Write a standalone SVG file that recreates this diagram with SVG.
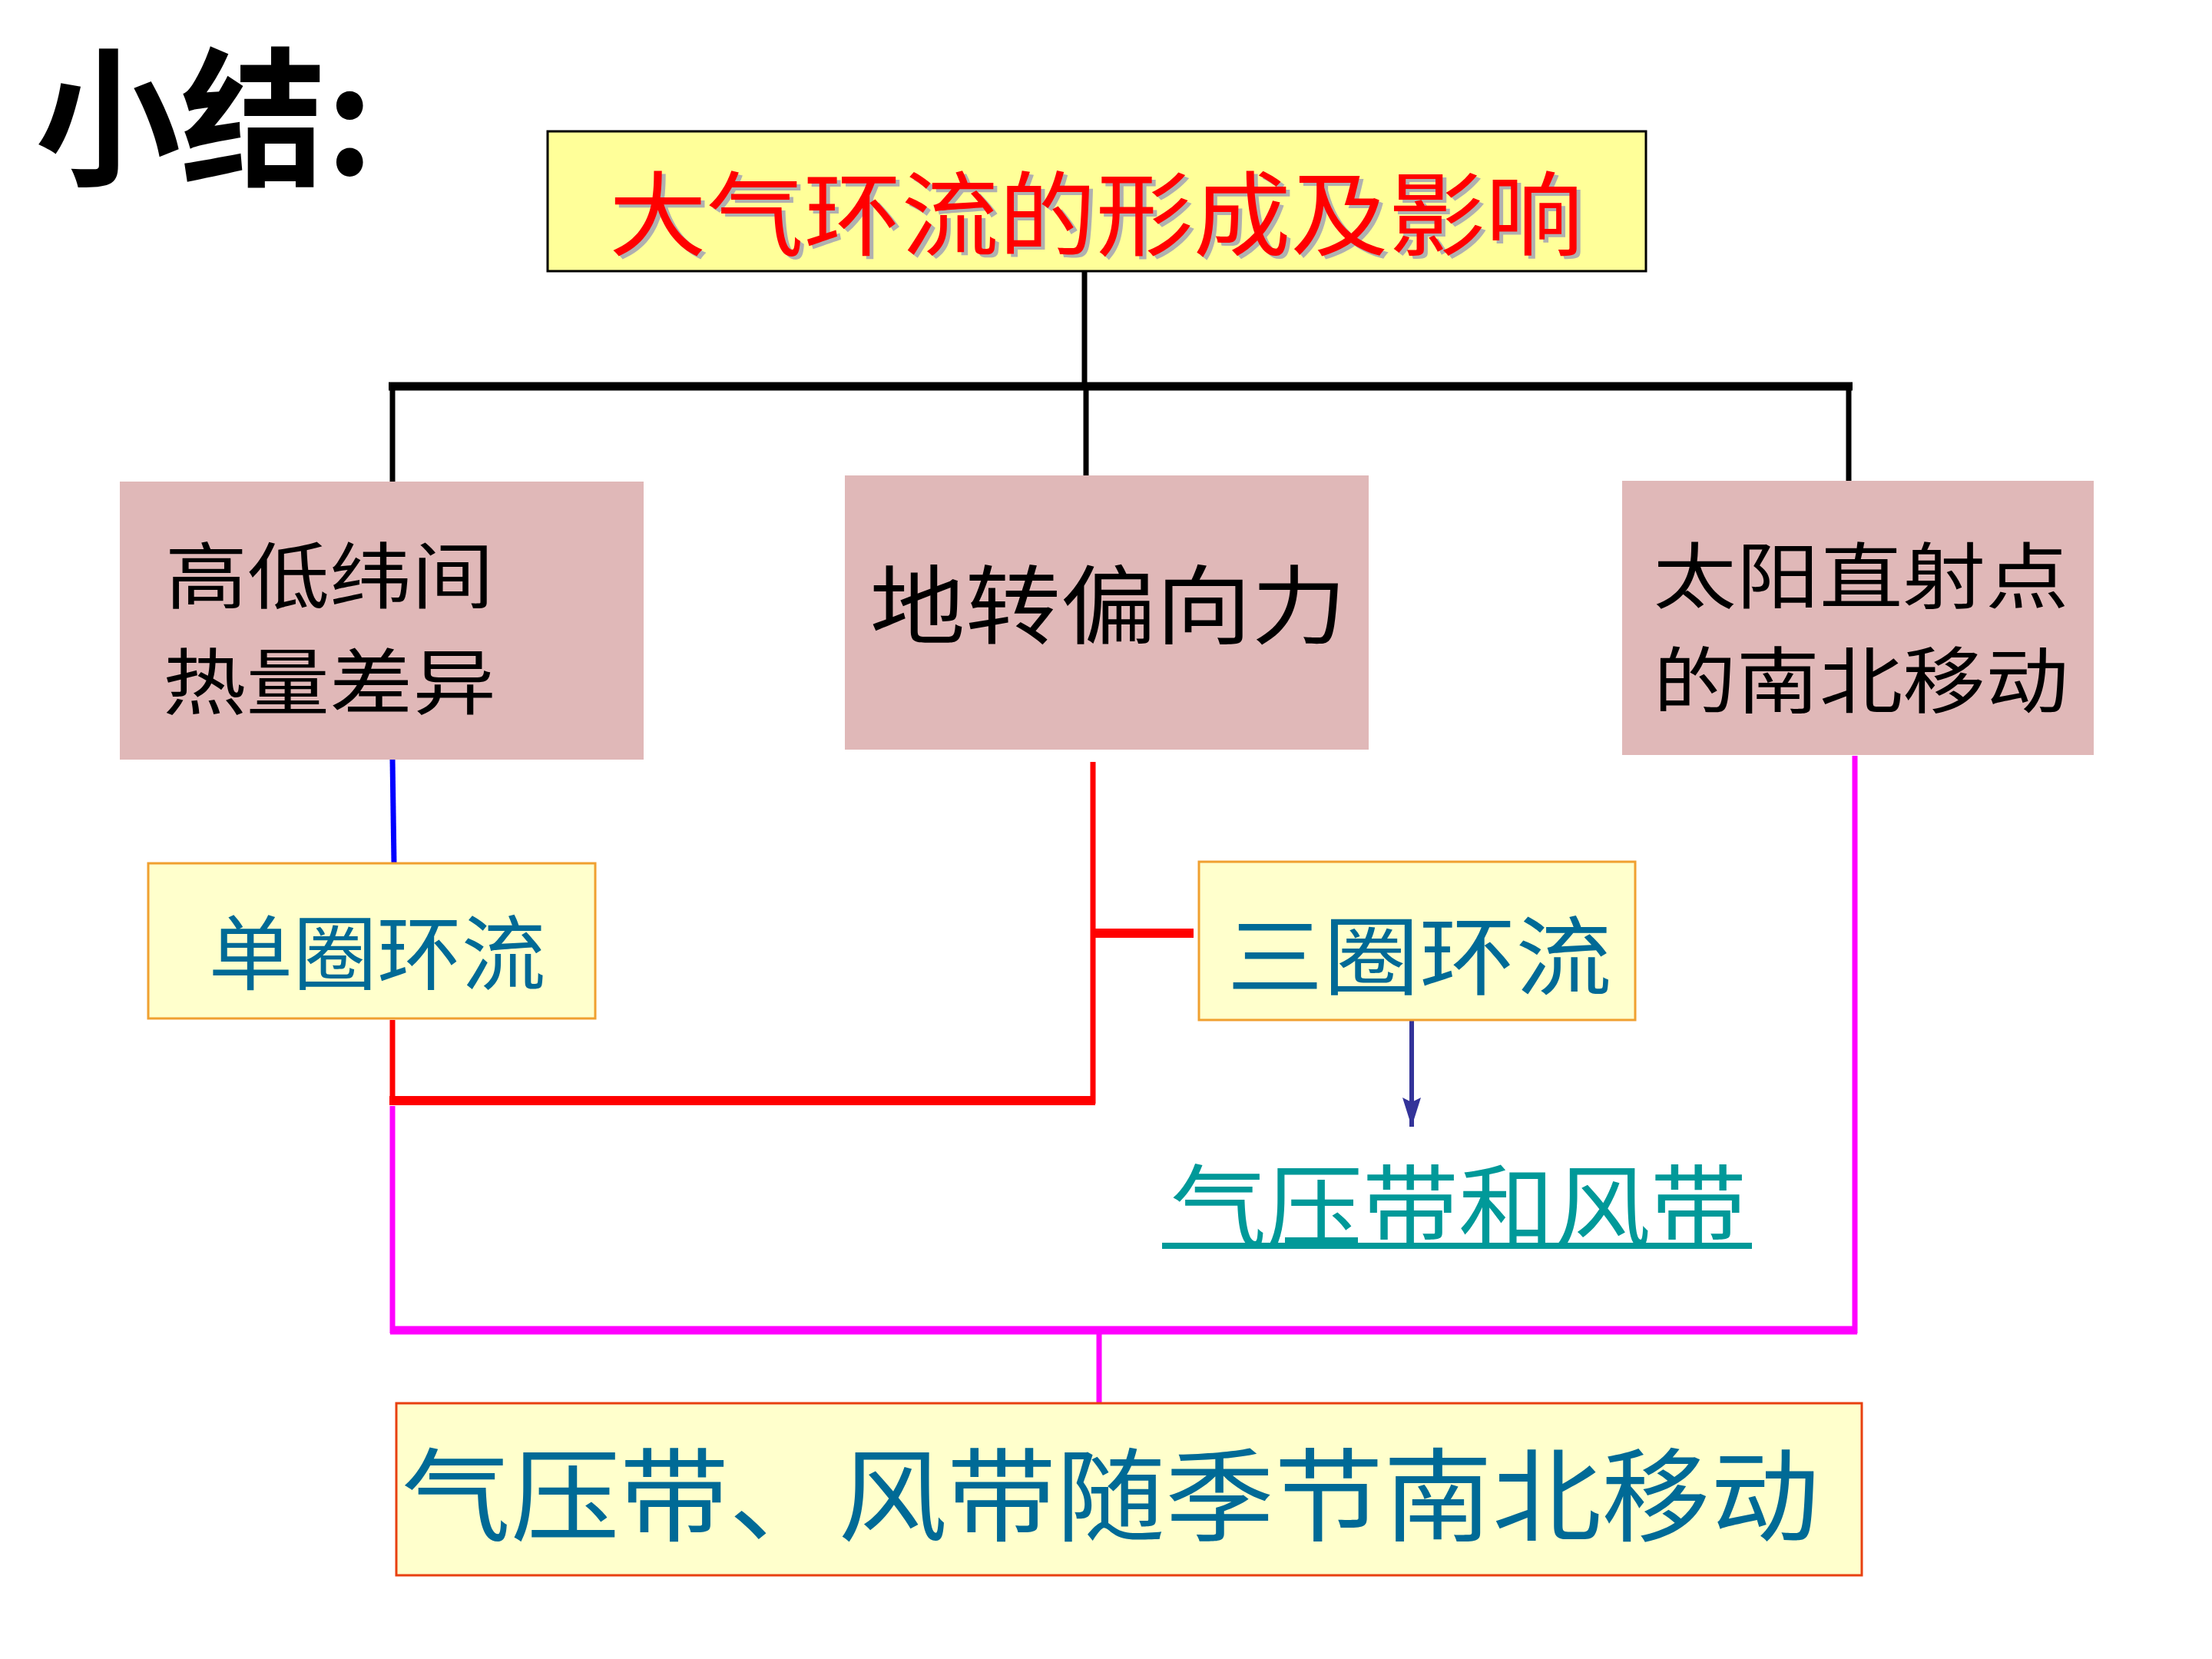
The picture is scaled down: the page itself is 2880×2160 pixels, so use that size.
<svg xmlns="http://www.w3.org/2000/svg" width="2880" height="2160" viewBox="0 0 2880 2160">
<defs>
<style>
text{font-family:"Noto Sans CJK SC","Noto Sans CJK TC",sans-serif;text-anchor:middle;dominant-baseline:central}
.pink{fill:#E0B8B8}
.yel{fill:#FFFFCC;stroke:#F0A030;stroke-width:3}
.blk{fill:#000000}
.teal{fill:#006A96}
.k{stroke:#000;fill:none}
.r{stroke:#FF0000;fill:none}
.m{stroke:#FF00FF;fill:none}
</style>
<marker id="ah" viewBox="0 0 38 24" refX="38" refY="12" markerWidth="38" markerHeight="24" markerUnits="userSpaceOnUse" orient="auto">
<path d="M0,0 L38,12 L0,24 L6,12 Z" fill="#333399"/>
</marker>
</defs>
<rect width="2880" height="2160" fill="#FFFFFF"/>
<text x="266" y="142" font-size="195" font-weight="bold" class="blk" textLength="440" lengthAdjust="spacingAndGlyphs">小结:</text>

<g id="connectors">
<line class="k" x1="1412" y1="353" x2="1412" y2="503" stroke-width="7"/>
<line class="k" x1="506" y1="503" x2="2412" y2="503" stroke-width="11"/>
<line class="k" x1="511" y1="503" x2="511" y2="628" stroke-width="7"/>
<line class="k" x1="1414" y1="503" x2="1414" y2="620" stroke-width="7"/>
<line class="k" x1="2407" y1="503" x2="2407" y2="630" stroke-width="7"/>
<line x1="511" y1="988" x2="513" y2="1124" stroke="#0000FF" stroke-width="7"/>
<line class="r" x1="1423" y1="992" x2="1423" y2="1437" stroke-width="7"/>
<line class="r" x1="1423" y1="1215" x2="1554" y2="1215" stroke-width="12"/>
<line class="r" x1="511" y1="1328" x2="511" y2="1437" stroke-width="7"/>
<line class="r" x1="507" y1="1433" x2="1426" y2="1433" stroke-width="12"/>
<line x1="1838" y1="1329" x2="1838" y2="1467" stroke="#333399" stroke-width="6" marker-end="url(#ah)"/>
<line class="m" x1="2415" y1="984" x2="2415" y2="1736" stroke-width="7"/>
<line class="m" x1="511" y1="1440" x2="511" y2="1736" stroke-width="7"/>
<line class="m" x1="508" y1="1732" x2="2418" y2="1732" stroke-width="11"/>
<line class="m" x1="1431" y1="1732" x2="1431" y2="1828" stroke-width="7"/>
</g>

<g id="node-title">
<rect x="713" y="171" width="1430" height="182" fill="#FFFF99" stroke="#000" stroke-width="3"/>
<text x="1432" y="276" font-size="120" fill="#B0B0B0" textLength="1268" lengthAdjust="spacingAndGlyphs">大气环流的形成及影响</text>
<text x="1427" y="272" font-size="120" fill="#FF0000" textLength="1268" lengthAdjust="spacingAndGlyphs">大气环流的形成及影响</text>
</g>

<g id="node-heat">
<rect class="pink" x="156" y="627" width="682" height="362"/>
<text x="429" y="744" font-size="94" class="blk" textLength="428" lengthAdjust="spacingAndGlyphs">高低纬间</text>
<text x="429" y="882" font-size="94" class="blk" textLength="434" lengthAdjust="spacingAndGlyphs">热量差异</text>
</g>

<g id="node-coriolis">
<rect class="pink" x="1100" y="619" width="682" height="357"/>
<text x="1443" y="781" font-size="112" class="blk" textLength="621" lengthAdjust="spacingAndGlyphs">地转偏向力</text>
</g>

<g id="node-sun">
<rect class="pink" x="2112" y="626" width="614" height="357"/>
<text x="2423" y="744" font-size="94" class="blk" textLength="541" lengthAdjust="spacingAndGlyphs">太阳直射点</text>
<text x="2423" y="880" font-size="94" class="blk" textLength="541" lengthAdjust="spacingAndGlyphs">的南北移动</text>
</g>

<g id="node-single">
<rect class="yel" x="193" y="1124" width="582" height="202"/>
<text x="491" y="1234" font-size="106" class="teal" textLength="439" lengthAdjust="spacingAndGlyphs">单圈环流</text>
</g>

<g id="node-three">
<rect class="yel" x="1561" y="1122" width="568" height="206"/>
<text x="1848" y="1238" font-size="112" class="teal" textLength="501" lengthAdjust="spacingAndGlyphs">三圈环流</text>
</g>

<g id="node-belts">
<text x="1899" y="1563" font-size="118" fill="#009999" textLength="750" lengthAdjust="spacingAndGlyphs">气压带和风带</text>
<line x1="1513" y1="1622" x2="2281" y2="1622" stroke="#009999" stroke-width="8"/>
</g>

<g id="node-shift">
<rect x="516" y="1827" width="1908" height="224" fill="#FFFFCC" stroke="#E84010" stroke-width="3"/>
<text x="1446" y="1938" font-size="132" class="teal" textLength="1846" lengthAdjust="spacingAndGlyphs">气压带、风带随季节南北移动</text>
</g>
</svg>
